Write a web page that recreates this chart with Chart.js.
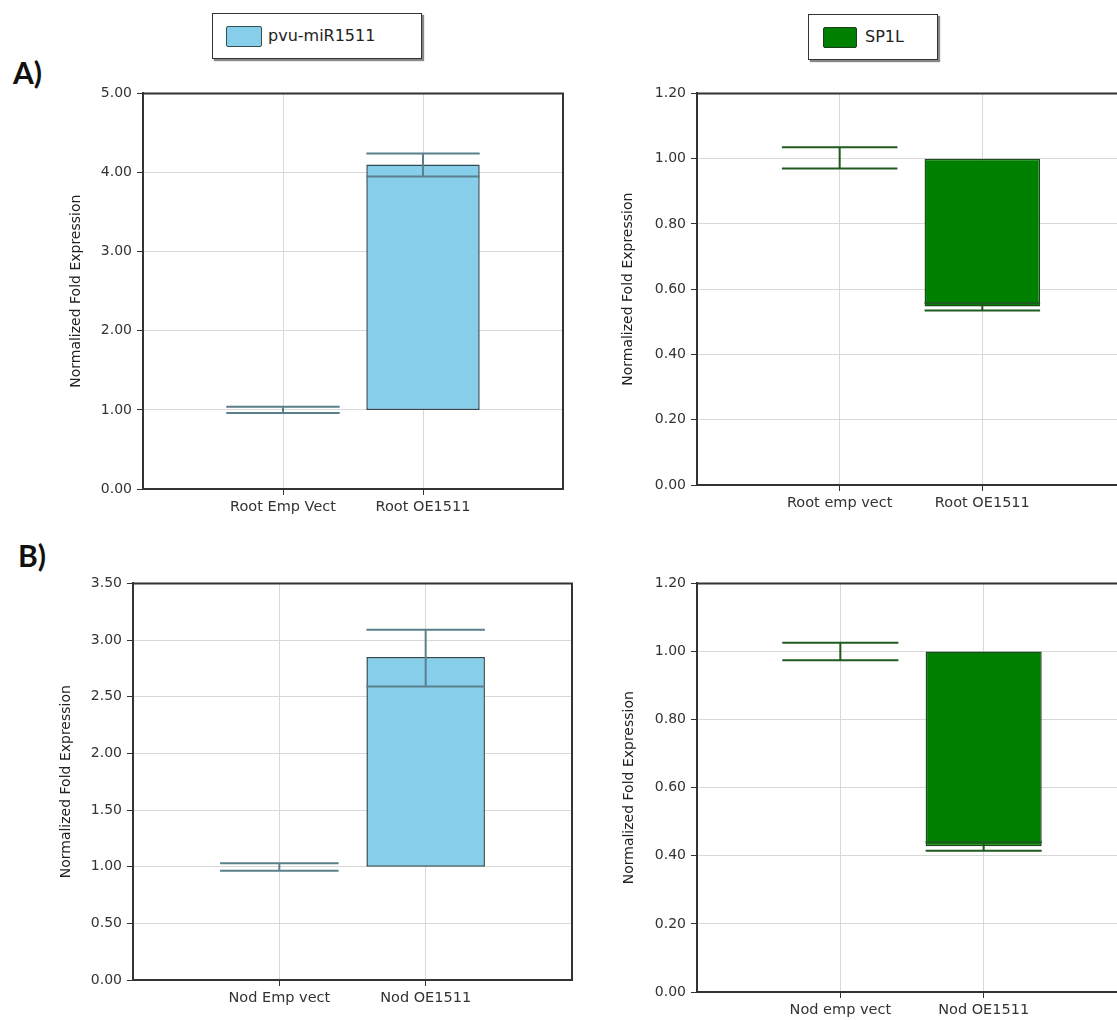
<!DOCTYPE html>
<html>
<head>
<meta charset="utf-8">
<script src="https://cdn.jsdelivr.net/npm/chart.js@4.4.1/dist/chart.umd.min.js"></script>
<style>
  body { margin: 0; background: #fff; }
  #page { position: relative; width: 1117px; height: 1020px; overflow: hidden; font-family: "DejaVu Sans", sans-serif; }
  canvas { position: absolute; }
  .legend { position: absolute; box-sizing: border-box; height: 46px; border: 1px solid #333; background: #fff; box-shadow: 2px 2px 1px #888; }
  .legend .sw { position: absolute; top: 12px; width: 36px; height: 21px; box-sizing: border-box; border-radius: 2px; }
  .legend .txt { position: absolute; top: 0; line-height: 44px; font-size: 16px; color: #222; }
  .tag { position: absolute; font: bold 30px "Lato", "Liberation Sans", sans-serif; color: #111; line-height: 30px; }
</style>
</head>
<body>
<div id="page">
  <div class="legend" style="left:212px; top:13px; width:210px;">
    <div class="sw" style="left:13px; background:#87ceeb; border:1px solid #2f4f4f;"></div>
    <div class="txt" style="left:55px;">pvu-miR1511</div>
  </div>
  <div class="legend" style="left:808px; top:14px; width:130px;">
    <div class="sw" style="left:14px; width:34px; background:#008000; border:1px solid #1c3c1c;"></div>
    <div class="txt" style="left:56px;">SP1L</div>
  </div>
  <div class="tag" style="left:13px; top:57px;">A)</div>
  <div class="tag" style="left:18px; top:540px;">B)</div>

  <canvas id="aLeft"></canvas>
  <canvas id="aRight"></canvas>
  <canvas id="bLeft"></canvas>
  <canvas id="bRight"></canvas>
</div>

<script>
// 카테고리 (x축)
const rootMirLabels = ['Root Emp Vect', 'Root OE1511'];
const rootSpLabels = ['Root emp vect', 'Root OE1511'];
const nodMirLabels = ['Nod Emp vect', 'Nod OE1511'];
const nodSpLabels = ['Nod emp vect', 'Nod OE1511'];

// 정규화 기준값 (막대는 여기서 시작)
const baseline = 1.0;

// pvu-miR1511, root
const rootMirValues = [1.00, 4.10];
const rootMirLow = [0.96, 3.95];
const rootMirHigh = [1.04, 4.24];
// SP1L, root
const rootSpValues = [1.00, 0.547];
const rootSpLow = [0.97, 0.535];
const rootSpHigh = [1.035, 0.558];
// pvu-miR1511, nodule
const nodMirValues = [1.00, 2.85];
const nodMirLow = [0.965, 2.59];
const nodMirHigh = [1.03, 3.09];
// SP1L, nodule
const nodSpValues = [1.00, 0.428];
const nodSpLow = [0.974, 0.415];
const nodSpHigh = [1.026, 0.44];

// y축 눈금
const rootMirTicks = [0, 1, 2, 3, 4, 5];
const nodMirTicks = [0, 0.5, 1, 1.5, 2, 2.5, 3, 3.5];
const spTicks = [0, 0.2, 0.4, 0.6, 0.8, 1.0, 1.2];

// 에러바 그리기
const errorBars = {
    id: 'errorBars',
    afterDatasetsDraw(chart) {
        const ctx = chart.ctx;
        const y = chart.scales.y;
        chart.data.datasets.forEach((ds, di) => {
            const meta = chart.getDatasetMeta(di);
            meta.data.forEach((bar, i) => {
                if (ds.errLow[i] == null) return;
                const half = bar.width / 2;
                const yl = y.getPixelForValue(ds.errLow[i]);
                const yh = y.getPixelForValue(ds.errHigh[i]);
                ctx.save();
                ctx.strokeStyle = ds.errColor;
                ctx.lineWidth = 2;
                ctx.beginPath();
                ctx.moveTo(bar.x - half, yh); ctx.lineTo(bar.x + half, yh);
                ctx.moveTo(bar.x - half, yl); ctx.lineTo(bar.x + half, yl);
                ctx.moveTo(bar.x, yl); ctx.lineTo(bar.x, yh);
                ctx.stroke();
                ctx.restore();
            });
        });
    }
};

// 위쪽, 오른쪽 테두리
const frame = {
    id: 'frame',
    afterDraw(chart) {
        const a = chart.chartArea;
        const ctx = chart.ctx;
        ctx.save();
        ctx.strokeStyle = '#333';
        ctx.lineWidth = 2;
        ctx.beginPath();
        ctx.moveTo(a.left, a.top);
        ctx.lineTo(a.right, a.top);
        ctx.lineTo(a.right, a.bottom);
        ctx.stroke();
        ctx.restore();
    }
};

function makeChart(id, box, labels, values, low, high, ticks, fill, edge, errColor) {
    const canvas = document.getElementById(id);
    canvas.width = box.width;
    canvas.height = box.height;
    canvas.style.left = box.left + 'px';
    canvas.style.top = box.top + 'px';

    // 양 끝에 빈 칸을 둬서 눈금이 1/3, 2/3 위치에 오게 함
    const cats = [''].concat(labels, ['']);
    const bars = [null].concat(values.map(v => [baseline, v]), [null]);

    return new Chart(canvas, {
        type: 'bar',
        data: {
            labels: cats,
            datasets: [{
                data: bars,
                backgroundColor: fill,
                borderColor: edge,
                borderWidth: c => (c.raw && c.raw[0] !== c.raw[1]) ? 1.5 : 0,
                borderSkipped: false,
                barPercentage: 0.81,
                categoryPercentage: 1,
                errLow: [null].concat(low, [null]),
                errHigh: [null].concat(high, [null]),
                errColor: errColor
            }]
        },
        options: {
            responsive: false,
            animation: false,
            layout: {
                padding: { top: box.plotT - box.top, right: box.left + box.width - box.plotR, left: 0, bottom: 0 }
            },
            plugins: { legend: { display: false }, tooltip: { enabled: false } },
            scales: {
                x: {
                    offset: false,
                    afterFit: s => { s.height = box.top + box.height - box.plotB; },
                    grid: {
                        offset: false,
                        color: '#d8d8d8',
                        tickLength: 6,
                        tickColor: c => (c.index === 0 || c.index === cats.length - 1) ? 'rgba(0,0,0,0)' : '#333'
                    },
                    border: { color: '#333', width: 2 },
                    ticks: { padding: 4, color: '#333', font: { family: 'DejaVu Sans', size: 14.5 }, maxRotation: 0, autoSkip: false }
                },
                y: {
                    min: ticks[0],
                    max: ticks[ticks.length - 1],
                    afterBuildTicks: s => { s.ticks = ticks.map(v => ({ value: v })); },
                    afterFit: s => { s.width = box.plotL - box.left; },
                    grid: { color: '#d8d8d8', tickLength: 6, tickColor: '#333' },
                    border: { color: '#333', width: 2 },
                    ticks: {
                        padding: 5,
                        color: '#333',
                        font: { family: 'DejaVu Sans', size: 14 },
                        callback: v => Number(v).toFixed(2)
                    },
                    title: {
                        display: true,
                        text: 'Normalized Fold Expression',
                        color: '#222',
                        font: { family: 'DejaVu Sans', size: 14 }
                    }
                }
            }
        },
        plugins: [errorBars, frame]
    });
}

const blue = '#87ceeb', blueEdge = '#2f4a52', blueErr = '#5a808c';
const green = '#008000', greenEdge = '#1c4a1c', greenErr = '#1f5a1f';

makeChart('aLeft', { left: 64, top: 80, width: 521, height: 445, plotL: 143, plotT: 90, plotR: 563, plotB: 489 },
    rootMirLabels, rootMirValues, rootMirLow, rootMirHigh, rootMirTicks, blue, blueEdge, blueErr);
makeChart('aRight', { left: 616, top: 80, width: 531, height: 445, plotL: 697, plotT: 90, plotR: 1125, plotB: 485 },
    rootSpLabels, rootSpValues, rootSpLow, rootSpHigh, spTicks, green, greenEdge, greenErr);
makeChart('bLeft', { left: 54, top: 570, width: 531, height: 450, plotL: 133, plotT: 583, plotR: 572, plotB: 980 },
    nodMirLabels, nodMirValues, nodMirLow, nodMirHigh, nodMirTicks, blue, blueEdge, blueErr);
makeChart('bRight', { left: 617, top: 570, width: 531, height: 450, plotL: 697, plotT: 580, plotR: 1127, plotB: 992 },
    nodSpLabels, nodSpValues, nodSpLow, nodSpHigh, spTicks, green, greenEdge, greenErr);
</script>
</body>
</html>
